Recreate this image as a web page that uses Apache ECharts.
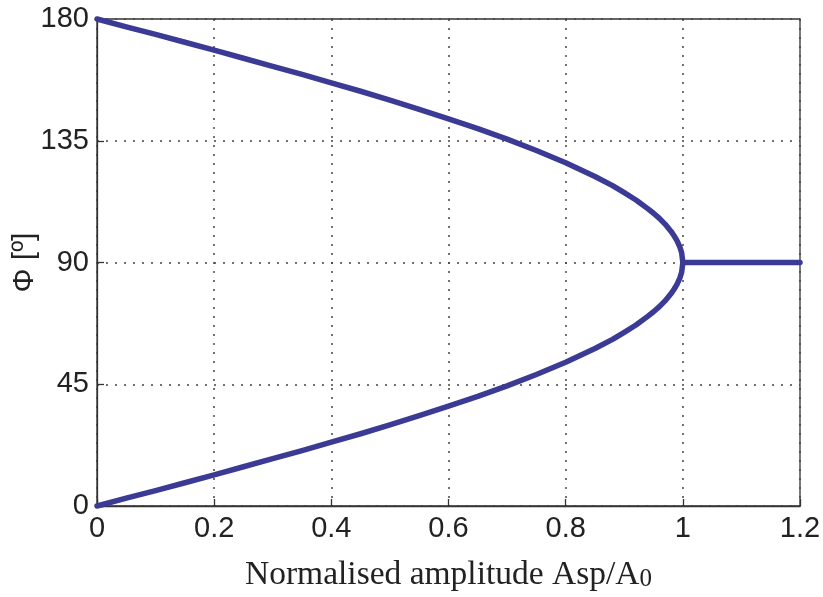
<!DOCTYPE html>
<html>
<head>
<meta charset="utf-8">
<script src="https://cdn.jsdelivr.net/npm/echarts@6/dist/echarts.min.js"></script>
<style>html,body{margin:0;padding:0;background:#fff}#c{width:823px;height:597px}</style>
</head>
<body>
<div id="c"></div>
<script>
// Data
const ampUpper = [0, 0.05, 0.1, 0.15, 0.2, 0.25, 0.3, 0.35, 0.4, 0.45, 0.5, 0.55, 0.6, 0.65, 0.7, 0.75, 0.8, 0.85, 0.88, 0.9, 0.92, 0.94, 0.95, 0.96, 0.97, 0.98, 0.985, 0.99, 0.995, 0.998, 1.0, 1.1, 1.2];
const phiUpper = [180, 177.1, 174.3, 171.4, 168.5, 165.5, 162.5, 159.5, 156.4, 153.3, 150, 146.6, 143.1, 139.5, 135.6, 131.4, 126.9, 121.8, 118.4, 115.8, 113.1, 109.9, 108.2, 106.3, 104.1, 101.5, 99.9, 98.1, 95.7, 93.6, 90, 90, 90];
const ampLower = [0, 0.05, 0.1, 0.15, 0.2, 0.25, 0.3, 0.35, 0.4, 0.45, 0.5, 0.55, 0.6, 0.65, 0.7, 0.75, 0.8, 0.85, 0.88, 0.9, 0.92, 0.94, 0.95, 0.96, 0.97, 0.98, 0.985, 0.99, 0.995, 0.998, 1.0];
const phiLower = [0, 2.9, 5.7, 8.6, 11.5, 14.5, 17.5, 20.5, 23.6, 26.7, 30, 33.4, 36.9, 40.5, 44.4, 48.6, 53.1, 58.2, 61.6, 64.2, 66.9, 70.1, 71.8, 73.7, 75.9, 78.5, 80.1, 81.9, 84.3, 86.4, 90];
const xTicks = [0, 0.2, 0.4, 0.6, 0.8, 1, 1.2];
const yTicks = [0, 45, 90, 135, 180];

const lineColor = '#3B3B96';
const chart = echarts.init(document.getElementById('c'), null, {renderer: 'canvas'});
chart.setOption({
  animation: false,
  backgroundColor: '#ffffff',
  grid: {left: 97, top: 19, right: 23, bottom: 91, containLabel: false, outerBoundsMode: 'none',
         show: true, borderColor: '#333', borderWidth: 1.3, backgroundColor: 'transparent'},
  xAxis: {
    type: 'value', min: xTicks[0], max: xTicks[xTicks.length - 1], interval: 0.2,
    name: 'Normalised amplitude Asp/A{s|0}',
    nameLocation: 'middle', nameGap: 52, nameMoveOverlap: false,
    nameTextStyle: {fontFamily: 'Liberation Serif', fontSize: 33.5, color: '#222', rich: {s: {fontFamily: 'Liberation Serif', fontSize: 25, color: '#222', verticalAlign: 'bottom'}}},
    axisLine: {show: true, lineStyle: {color: '#333', width: 1.3}},
    axisTick: {show: true, inside: true, length: 7, lineStyle: {color: '#333', width: 1.3}},
    axisLabel: {fontFamily: 'Liberation Sans', fontSize: 29, color: '#222', margin: 8,
      formatter: v => String(+v.toFixed(1))},
    splitLine: {show: true, lineStyle: {color: '#444', type: [2, 7], width: 1.5}}
  },
  yAxis: {
    type: 'value', min: yTicks[0], max: yTicks[yTicks.length - 1], interval: 45,
    name: 'Φ [º]', nameLocation: 'middle', nameGap: 57, nameRotate: 90, nameMoveOverlap: false,
    nameTextStyle: {fontFamily: 'Liberation Sans', fontSize: 30, color: '#222'},
    axisLine: {show: true, lineStyle: {color: '#333', width: 1.3}},
    axisTick: {show: true, inside: true, length: 7, lineStyle: {color: '#333', width: 1.3}},
    axisLabel: {fontFamily: 'Liberation Sans', fontSize: 29, color: '#222', margin: 8},
    splitLine: {show: true, lineStyle: {color: '#444', type: [2, 7], width: 1.5}}
  },
  series: [
    {type: 'line', data: ampUpper.map((a, i) => [a, phiUpper[i]]), showSymbol: false, smooth: false, clip: false,
     lineStyle: {color: lineColor, width: 5.5, join: 'round', cap: 'round'}},
    {type: 'line', data: ampLower.map((a, i) => [a, phiLower[i]]), showSymbol: false, smooth: false, clip: false,
     lineStyle: {color: lineColor, width: 5.5, join: 'round', cap: 'round'}}
  ]
});
</script>
</body>
</html>
